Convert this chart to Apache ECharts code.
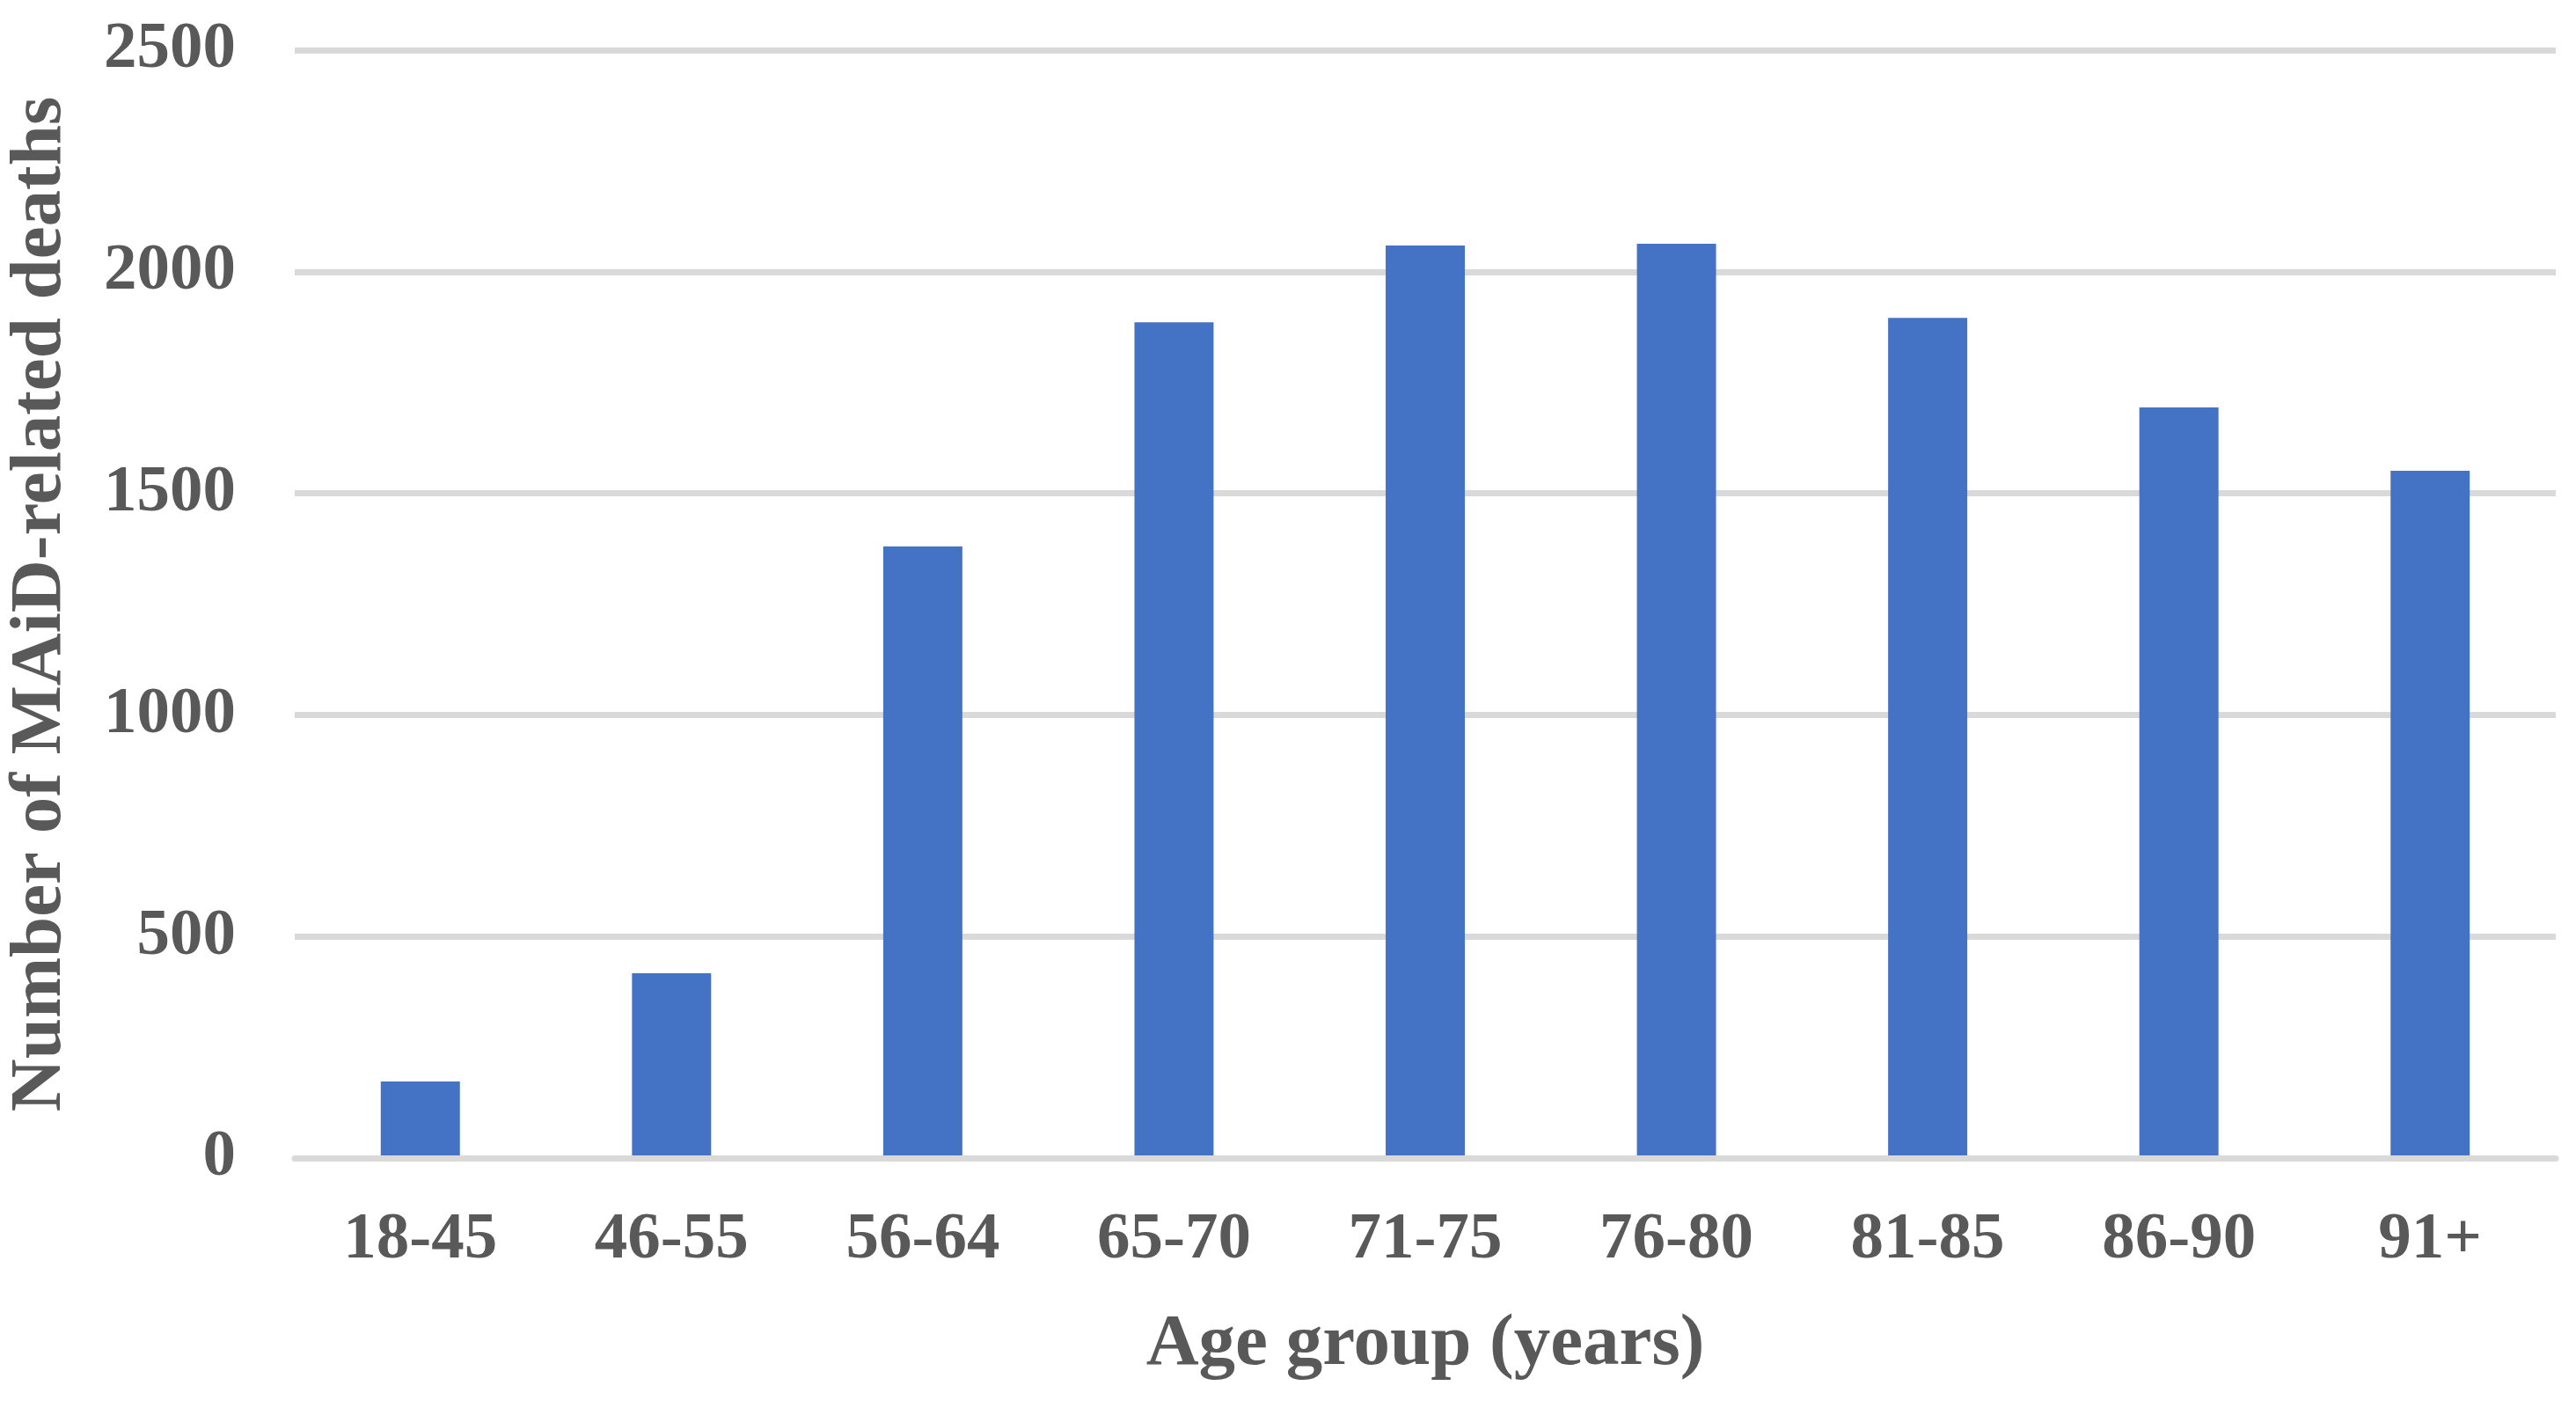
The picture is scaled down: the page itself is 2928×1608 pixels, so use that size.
<!DOCTYPE html>
<html>
<head>
<meta charset="utf-8">
<script src="https://cdn.jsdelivr.net/npm/echarts@6/dist/echarts.min.js"></script>
<style>
html,body{margin:0;padding:0;background:#fff;}
#chart{width:2928px;height:1608px;}
</style>
</head>
<body>
<div id="chart"></div>
<script>
const categories = ['18-45','46-55','56-64','65-70','71-75','76-80','81-85','86-90','91+'];
const deaths = [173, 417, 1380, 1886, 2059, 2063, 1896, 1694, 1551];
const yTicks = [0, 500, 1000, 1500, 2000, 2500];

const font = '"Liberation Serif", "Times New Roman", serif';
const textColor = '#595959';
const chart = echarts.init(document.getElementById('chart'));
chart.setOption({
  animation: false,
  backgroundColor: '#ffffff',
  grid: { left: 335, right: 23, top: 57, bottom: 292, containLabel: false, outerBoundsMode: 'none' },
  xAxis: {
    type: 'category',
    data: categories,
    z: 3,
    axisLine: { show: true, lineStyle: { color: '#D9D9D9', width: 7 } },
    axisTick: { show: false },
    axisLabel: { color: textColor, fontFamily: font, fontWeight: 'bold', fontSize: 75, margin: 56 },
    name: 'Age group (years)',
    nameLocation: 'middle',
    nameGap: 171,
    nameTextStyle: { color: textColor, fontFamily: font, fontWeight: 'bold', fontSize: 83, verticalAlign: 'top' }
  },
  yAxis: {
    type: 'value',
    min: yTicks[0],
    max: yTicks[yTicks.length - 1],
    interval: yTicks[1] - yTicks[0],
    axisLine: { show: false },
    axisTick: { show: false },
    splitLine: { show: true, lineStyle: { color: '#D9D9D9', width: 7 } },
    axisLabel: { color: textColor, fontFamily: font, fontWeight: 'bold', fontSize: 75, margin: 67, formatter: v => String(v) },
    name: 'Number of MAiD-related deaths',
    nameLocation: 'middle',
    nameGap: 247,
    nameTextStyle: { color: textColor, fontFamily: font, fontWeight: 'bold', fontSize: 83 }
  },
  series: [{
    type: 'bar',
    data: deaths,
    barWidth: '31.5%',
    itemStyle: { color: '#4472C4' }
  }]
});
</script>
</body>
</html>
